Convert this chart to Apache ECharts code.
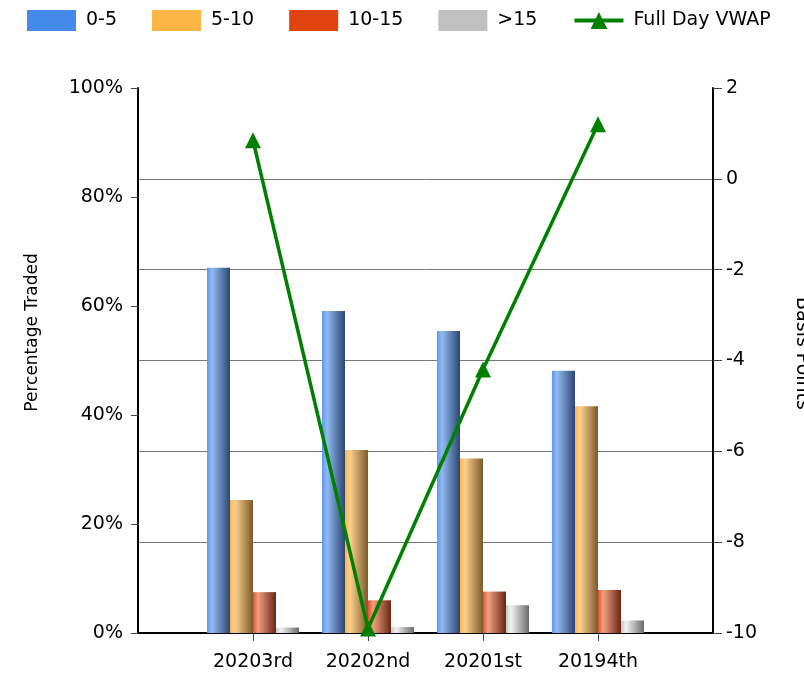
<!DOCTYPE html>
<html>
<head>
<meta charset="utf-8">
<script src="https://cdn.jsdelivr.net/npm/echarts@6/dist/echarts.min.js"></script>
<style>
  html, body { margin: 0; padding: 0; background: #fff; }
  #chart { width: 804px; height: 674px; }
</style>
</head>
<body>
<div id="chart"></div>
<script>
// categories (empty slots at both ends give the outer padding)
var categories = ['', '20203rd', '20202nd', '20201st', '20194th', ''];
var bucketNames = ['0-5', '5-10', '10-15', '>15'];
var share0to5 = [null, 67.0, 59.1, 55.4, 48.1, null];
var share5to10 = [null, 24.4, 33.6, 32.0, 41.6, null];
var share10to15 = [null, 7.5, 6.0, 7.6, 7.9, null];
var shareOver15 = [null, 1.0, 1.1, 5.1, 2.3, null];
var vwapBps = [null, 0.85, -9.9, -4.2, 1.2, null];
var leftTicks = { min: 0, max: 100, interval: 20 };
var rightTicks = { min: -10, max: 2, interval: 2 };

var fontFamily = '"DejaVu Sans", sans-serif';

function grad(c0, c1, c2) {
    return new echarts.graphic.LinearGradient(0, 0, 1, 0, [
        { offset: 0, color: c0 },
        { offset: 0.22, color: c1 },
        { offset: 1, color: c2 }
    ]);
}

var legendColors = ['#448aeb', '#fbb545', '#e0430e', '#c0c0c0'];
var barFills = [
    grad('#5c98ee', '#92baf2', '#2b4670'),
    grad('#fdb54a', '#fdd08e', '#7a5a2a'),
    grad('#e2502a', '#f0a080', '#6a2612'),
    grad('#c8c8c8', '#f2f2f2', '#6a6a6a')
];
var barData = [share0to5, share5to10, share10to15, shareOver15];

var chart = echarts.init(document.getElementById('chart'));

var series = bucketNames.map(function (name, i) {
    return {
        name: name,
        type: 'bar',
        yAxisIndex: 0,
        barWidth: 23,
        barGap: '0%',
        itemStyle: { color: barFills[i] },
        data: barData[i]
    };
});
series.push({
    name: 'Full Day VWAP',
    type: 'line',
    yAxisIndex: 1,
    symbol: 'triangle',
    symbolSize: 16,
    lineStyle: { color: '#008000', width: 3.5 },
    itemStyle: { color: '#008000' },
    data: vwapBps,
    z: 5
});

var legendData = bucketNames.map(function (name, i) {
    return { name: name, icon: 'rect', itemStyle: { color: legendColors[i] } };
});
legendData.push({ name: 'Full Day VWAP', lineStyle: { width: 4 } });

chart.setOption({
    animation: false,
    textStyle: { fontFamily: fontFamily },
    legend: {
        left: 22,
        top: 5,
        itemWidth: 49,
        itemHeight: 21,
        itemGap: 35,
        textStyle: { fontSize: 19, color: '#000', fontFamily: fontFamily, padding: [0, 0, 0, 5] },
        data: legendData
    },
    grid: { left: 138, right: 91, top: 88, bottom: 41, outerBoundsMode: 'none', containLabel: false },
    xAxis: {
        type: 'category',
        boundaryGap: false,
        data: categories,
        axisLine: { lineStyle: { color: '#000', width: 2 } },
        axisTick: {
            length: 8,
            lineStyle: { color: '#444' },
            interval: function (idx) { return idx > 0 && idx < categories.length - 1; }
        },
        axisLabel: { color: '#000', fontSize: 19, margin: 20, fontFamily: fontFamily },
        splitLine: { show: false }
    },
    yAxis: [
        {
            type: 'value',
            min: leftTicks.min,
            max: leftTicks.max,
            interval: leftTicks.interval,
            name: 'Percentage Traded',
            nameLocation: 'middle',
            nameGap: 97,
            nameTextStyle: { fontSize: 17, color: '#000', fontFamily: fontFamily, padding: [0, 0, 0, 56] },
            axisLine: { show: true, lineStyle: { color: '#000', width: 2 } },
            axisTick: { show: true, length: 7, lineStyle: { color: '#444' } },
            axisLabel: { color: '#000', fontSize: 19, margin: 15, formatter: '{value}%', fontFamily: fontFamily },
            splitLine: { show: false }
        },
        {
            type: 'value',
            min: rightTicks.min,
            max: rightTicks.max,
            interval: rightTicks.interval,
            position: 'right',
            name: 'Basis Points',
            nameLocation: 'middle',
            nameRotate: -90,
            nameGap: 79,
            nameTextStyle: { fontSize: 19, color: '#000', fontFamily: fontFamily, padding: [0, 14, 0, 0] },
            axisLine: { show: true, lineStyle: { color: '#000', width: 2 } },
            axisTick: { show: true, length: 9, lineStyle: { color: '#444' } },
            axisLabel: { color: '#000', fontSize: 19, margin: 13, fontFamily: fontFamily },
            splitLine: { show: true, showMaxLine: false, showMinLine: false, lineStyle: { color: '#777', width: 1 } }
        }
    ],
    series: series
});
</script>
</body>
</html>
